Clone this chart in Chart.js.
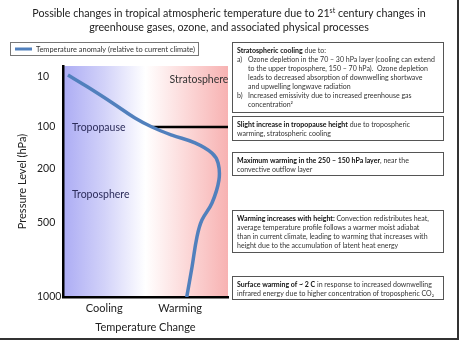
<!DOCTYPE html>
<html>
<head>
<meta charset="utf-8">
<script src="https://cdn.jsdelivr.net/npm/chart.js@4"></script>
<style>
  html, body { margin: 0; padding: 0; background: #fff; }
  #wrap { position: relative; width: 464px; height: 341px; }
  #frameR { position: absolute; left: 457px; top: 0; width: 2px; height: 340px; background: #333; }
  #frameB { position: absolute; left: 0; top: 338px; width: 459px; height: 2px; background: #333; }
</style>
</head>
<body>
<div id="wrap">
  <canvas id="chart" width="464" height="341"></canvas>
  <div id="frameR"></div>
  <div id="frameB"></div>
</div>
<script>
// temperature anomaly (arbitrary units, - = cooling, + = warming)
const anomaly = [-4.7, -3.5, -2.0, -0.64, 0.39, 1.6, 3.0, 4.03, 4.4, 4.45, 4.03, 3.42, 3.12, 2.82, 2.5];
// vertical level index (0 = 1000 hPa surface, 100 = top of plot)
const level = [96.1, 90.9, 84.0, 77.5, 73.6, 70.1, 66.7, 62.3, 58.0, 50.6, 40.7, 33.3, 26.0, 13.0, 0];

const tropopauseX = [0.39, 5];
const tropopauseLevel = 73.6;

const pressureLabels = ['10', '100', '200', '500', '1000'];
const pressureLevels = [95.4, 73.7, 55.4, 32.0, 0];

const xTickLabels = ['Cooling', 'Warming'];
const xTickValues = [-2.5, 2.1];

const titleText = [
    [['Possible changes in tropical atmospheric temperature due to 21'], ['st', 'sup'], [' century changes in']],
    [['greenhouse gases, ozone, and associated physical processes']]
];

const regionLabels = ['Stratosphere', 'Tropopause', 'Troposphere'];

const notes = [
    ['**Stratospheric cooling** due to:',
     'a)\tOzone depletion in the 70 \u2013 30 hPa layer (cooling can extend',
     '\tto the upper troposphere, 150 \u2013 70 hPa).  Ozone depletion',
     '\tleads to decreased absorption of downwelling shortwave',
     '\tand upwelling longwave radiation',
     'b)\tIncreased emissivity due to increased greenhouse gas',
     '\tconcentration\u00b2'],
    ['**Slight increase in tropopause height** due to tropospheric',
     'warming, stratospheric cooling'],
    ['**Maximum warming in the 250 \u2013 150 hPa layer**, near the',
     'convective outflow layer'],
    ['**Warming increases with height:** Convection redistributes heat,',
     'average temperature profile follows a warmer moist adiabat',
     'than in current climate, leading to warming that increases with',
     'height due to the accumulation of latent heat energy'],
    ['**Surface warming of ~ 2 C** in response to increased downwelling',
     'infrared energy due to higher concentration of tropospheric CO\u2082']
];

const FONT = 'Lato';
const curveColor = '#5180bd';

// box tops / bottoms for the notes column
const noteBoxes = [[42, 112], [116, 140], [152, 175], [210, 252], [276, 299]];

function drawRich(ctx, line, x, y, size) {
    const parts = line.split('**');
    parts.forEach((p, i) => {
        ctx.font = (i % 2 ? 'bold ' : '') + size + 'px ' + FONT;
        ctx.fillStyle = i % 2 ? '#111' : '#333';
        ctx.fillText(p, x, y);
        x += ctx.measureText(p).width;
    });
}

const decor = {
    id: 'decor',
    beforeDraw(chart) {
        const {ctx, chartArea: a} = chart;
        const g = ctx.createLinearGradient(a.left, 0, a.right, 0);
        g.addColorStop(0, '#acacf4');
        g.addColorStop(0.25, '#d2d2f9');
        g.addColorStop(0.5, '#ffffff');
        g.addColorStop(0.75, '#fcd8d8');
        g.addColorStop(1, '#f7b2b2');
        ctx.save();
        ctx.fillStyle = g;
        ctx.fillRect(a.left, a.top, a.right - a.left, a.bottom - a.top);
        ctx.restore();
    },
    afterDraw(chart) {
        const ctx = chart.ctx;
        ctx.save();
        ctx.textBaseline = 'middle';

        // title
        ctx.fillStyle = '#222';
        titleText.forEach((segs, li) => {
            const y = 14 + li * 13.5;
            let w = 0;
            segs.forEach(s => {
                ctx.font = (s[1] ? 7 : 10.7) + 'px ' + FONT;
                w += ctx.measureText(s[0]).width;
            });
            let x = 229 - w / 2;
            ctx.textAlign = 'left';
            segs.forEach(s => {
                ctx.font = (s[1] ? 7 : 10.7) + 'px ' + FONT;
                ctx.fillText(s[0], x, s[1] ? y - 3 : y);
                x += ctx.measureText(s[0]).width;
            });
        });

        // legend
        const ds = chart.data.datasets[0];
        ctx.strokeStyle = '#777';
        ctx.lineWidth = 1;
        ctx.strokeRect(10.5, 42.5, 188, 13);
        ctx.strokeStyle = ds.borderColor;
        ctx.lineWidth = 3;
        ctx.beginPath();
        ctx.moveTo(15, 49);
        ctx.lineTo(32, 49);
        ctx.stroke();
        ctx.fillStyle = '#333';
        ctx.font = '7.4px ' + FONT;
        ctx.fillText(ds.label, 36, 49.5);

        // region labels
        ctx.font = '10.5px ' + FONT;
        ctx.fillStyle = '#333';
        ctx.textAlign = 'center';
        ctx.fillText(regionLabels[0], 199, 80);
        ctx.textAlign = 'left';
        ctx.fillStyle = '#2c2c5a';
        ctx.fillText(regionLabels[1], 72, 128);
        ctx.fillText(regionLabels[2], 72, 195);

        // annotation boxes
        notes.forEach((lines, bi) => {
            const [top, bottom] = noteBoxes[bi];
            ctx.strokeStyle = '#555';
            ctx.lineWidth = 1;
            ctx.fillStyle = '#fff';
            ctx.fillRect(232.5, top + 0.5, 211, bottom - top);
            ctx.strokeRect(232.5, top + 0.5, 211, bottom - top);
            lines.forEach((ln, li) => {
                const y = top + 8.5 + li * 9;
                const tab = ln.indexOf('\t');
                if (tab >= 0) {
                    if (tab > 0) drawRich(ctx, ln.slice(0, tab), 237, y, 7);
                    drawRich(ctx, ln.slice(tab + 1), 248, y, 7);
                } else {
                    drawRich(ctx, ln, 237, y, 7);
                }
            });
        });
        ctx.restore();
    }
};

new Chart(document.getElementById('chart'), {
    type: 'line',
    data: {
        datasets: [{
            label: 'Temperature anomaly (relative to current climate)',
            data: anomaly.map((x, i) => ({x: x, y: level[i]})),
            borderColor: curveColor,
            borderWidth: 3.5,
            pointRadius: 0,
            tension: 0.4,
            fill: false
        }, {
            label: 'Tropopause',
            data: tropopauseX.map(x => ({x: x, y: tropopauseLevel})),
            borderColor: '#000',
            borderWidth: 2.5,
            pointRadius: 0,
            fill: false
        }]
    },
    options: {
        responsive: false,
        animation: false,
        layout: {padding: {left: 37, right: 236, top: 66, bottom: 0}},
        plugins: {
            legend: {display: false},
            title: {display: false},
            tooltip: {enabled: false}
        },
        scales: {
            x: {
                type: 'linear',
                min: -5,
                max: 5,
                grid: {display: false, drawTicks: false},
                border: {color: '#000', width: 2.5},
                afterBuildTicks: s => { s.ticks = xTickValues.map(v => ({value: v})); },
                afterFit: s => { s.height = 44; },
                ticks: {
                    padding: 5,
                    color: '#222',
                    autoSkip: false,
                    maxRotation: 0,
                    font: {family: FONT, size: 11},
                    callback: (v, i) => xTickLabels[i]
                },
                title: {
                    display: true,
                    text: 'Temperature Change',
                    color: '#222',
                    font: {family: FONT, size: 11},
                    padding: {top: 0, bottom: 7.4}
                }
            },
            y: {
                type: 'linear',
                min: 0,
                max: 100,
                grid: {display: false, drawTicks: false},
                border: {color: '#000', width: 2.5},
                afterBuildTicks: s => { s.ticks = pressureLevels.map(v => ({value: v})); },
                afterFit: s => { s.width = 26; },
                ticks: {
                    crossAlign: 'far',
                    color: '#222',
                    autoSkip: false,
                    font: {family: FONT, size: 10.5},
                    callback: (v, i) => pressureLabels[i]
                },
                title: {
                    display: true,
                    text: 'Pressure Level (hPa)',
                    color: '#222',
                    font: {family: FONT, size: 11},
                    padding: {top: -21.6, bottom: 0}
                }
            }
        }
    },
    plugins: [decor]
});
</script>
</body>
</html>
